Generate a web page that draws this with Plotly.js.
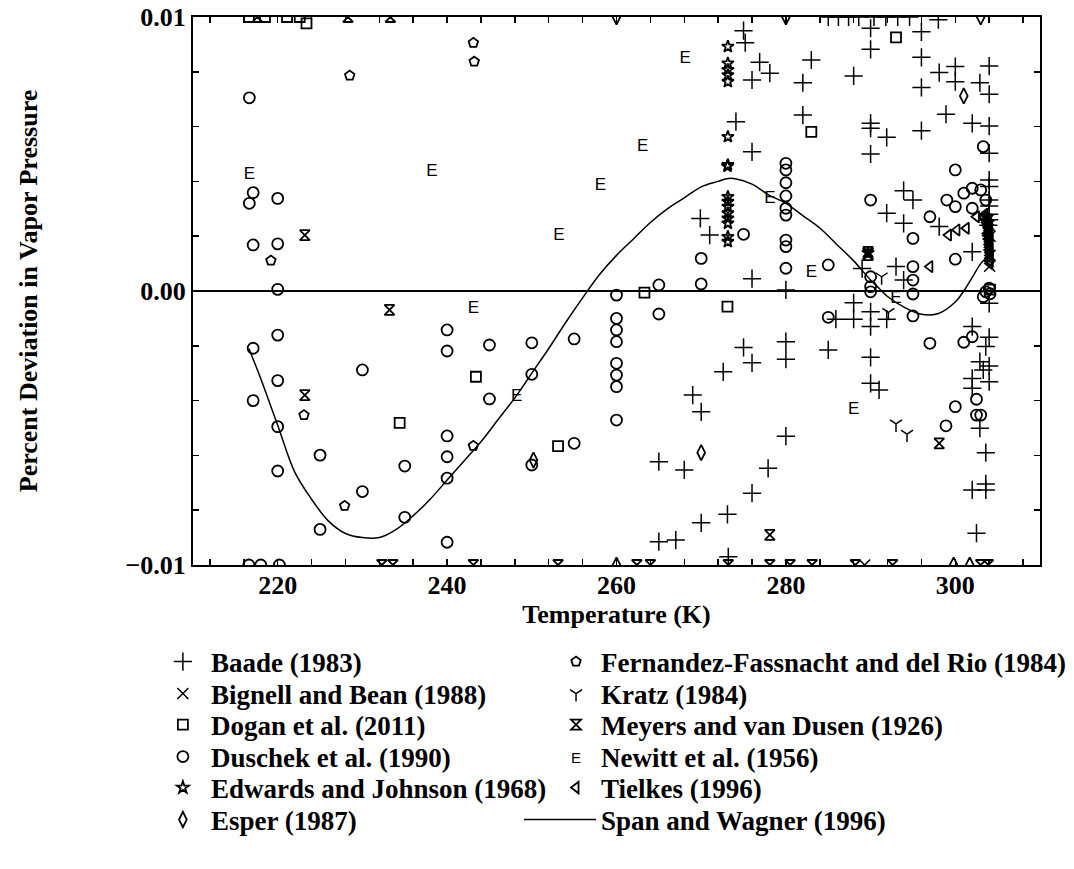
<!DOCTYPE html>
<html><head><meta charset="utf-8">
<script src="https://cdn.plot.ly/plotly-3.0.1.min.js"></script>
<style>html,body{margin:0;padding:0;background:#fff}</style>
</head><body><div id="chart" style="width:1074px;height:869px"></div>
<script>
// [Temperature (K), percent deviation]
const baadePts = [[275,-0.00206],[276,-0.00262],[272.6,-0.00295],[269,-0.0038],[270,-0.00441],[265,-0.00623],[268,-0.00653],[277.9,-0.00647],[276,-0.00738],[270,-0.00846],[273.1,-0.00815],[265,-0.00915],[267,-0.00909],[273.2,-0.0097],[280,-0.0053],
[275,0.0095],[275.2,0.00906],[276.9,0.00835],[278.1,0.00795],[276,0.0077],[274.1,0.00618],[276,0.00508],[269.9,0.00265],[271,0.00204],[276,0.00045],
[290,0.00959],[296,0.00946],[290,0.00882],[296,0.00853],[283,0.00843],[282,0.0076],[288,0.00785],[296,0.00743],[298.1,0.00797],[300,0.00819],[304,0.00821],[300,0.00764],[302.9,0.0076],[304,0.00718],[298.9,0.00645],[282,0.00642],[290,0.00612],[290,0.00594],[291.9,0.00561],[296,0.00585],[290,0.005],[302,0.00612],[304,0.00602],[304,0.00503],[304,0.00405],[304,0.00381],[304,0.00332],[293.9,0.00366],[295,0.00332],[291.9,0.00284],[293.9,0.00247],[298.1,0.00235],[302,0.00143],[289,0.00082],[293,0.00089],[293.9,0.0004],[280,0.00004],
[288,-0.00043],[285.9,-0.00103],[288,-0.00103],[290,-0.00076],[290,-0.0013],[291.9,-0.00103],[280,-0.00185],[280,-0.00249],[285,-0.00215],[290,-0.00242],[290,-0.00337],[291,-0.00361],
[302,-0.0013],[304,-0.00045],[304,-0.00169],[303.6,-0.00203],[302.9,-0.00258],[304,-0.00274],[303.3,-0.00288],[302,-0.00319],[302,-0.00355],[304,-0.00331],[302.9,-0.00501],[303.6,-0.0059],[302,-0.00726],[303.6,-0.00704],[303.6,-0.00726],[302.5,-0.00884],
[304,0.0031],[304,0.0028],[304,0.0026],[303.9,0.0024],
[285,0.01],[286.2,0.01],[287.4,0.01],[288.6,0.01],[290.4,0.01],[291.8,0.01],[293.2,0.01],[294.6,0.01],[298,0.0099]];

const bignellPts = [[303.9,0.0026],[304.0,0.0024],[304.1,0.002],[304.1,0.0013],[304.05,0.0009],[303.8,0.0022],[289.7,0.00137],[289.3,-0.01]];

const doganPts = [[234.4,-0.00481],[243.4,-0.00313],[253.1,-0.00566],[263.3,-0.00006],[273.1,-0.00057],[283,0.00581],[293,0.00926],[223.4,0.00977],[304.1,0.00005],
[216.6,0.01],[218.5,0.01],[221.1,0.01],[222.6,0.01]];

const duschekPts = [[216.65,0.00705],[217.1,0.00359],[216.65,0.0032],[220,0.00338],[217.1,0.00168],[220,0.00172],[220,0.00006],[220,-0.00161],[217.1,-0.00209],[220,-0.00327],[217.1,-0.004],[220,-0.00495],[225,-0.00599],[220,-0.00657],
[230,-0.00288],[230,-0.00732],[225,-0.0087],[235,-0.00639],[235,-0.00826],[240,-0.00142],[240,-0.00219],[240,-0.00529],[240,-0.00605],[240,-0.00683],[240,-0.00917],[245,-0.00197],[245,-0.00394],
[250,-0.00189],[250,-0.00304],[250,-0.00635],[255,-0.00175],[255,-0.00556],[260,-0.00015],[260,-0.001],[260,-0.00142],[260,-0.00185],[260,-0.00264],[260,-0.00307],[260,-0.00349],[260,-0.00471],
[265,0.00022],[265,-0.00084],[270,0.00026],[270,0.00119],[275,0.00207],
[280,0.00466],[280,0.00442],[280,0.00395],[280,0.00347],[280,0.00302],[280,0.00277],[280,0.00186],[280,0.00162],[280,0.00083],
[290,0.00332],[295,0.00192],[297,0.00271],[300,0.00442],[299,0.00332],[300,0.00308],[301,0.00357],[302,0.00375],[302,0.00302],[303,0.00369],[303.3,0.00527],[300,0.00116],[295,0.00089],[295,0.0004],[290,0.00052],[290,0.00016],[285,0.00095],[303.6,0.00332],
[290,-0.00003],[295,-0.00011],[295,-0.00091],[285,-0.00096],[297,-0.00191],[301,-0.00187],[302,-0.00167],[300,-0.00422],[298.9,-0.00492],[302.5,-0.00395],[302.5,-0.00453],[303,-0.00453],[303.6,-0.00003],[303.3,-0.00021],[304,0.0001],[304.1,-0.0001],
[216.6,-0.01],[218,-0.01],[220.2,-0.01]];

const edwardsPts = [[273.15,0.00892],[273.15,0.00831],[273.15,0.00807],[273.15,0.00788],[273.15,0.00764],[273.15,0.00563],[273.15,0.0046],[273.1,0.00455],[273.15,0.00344],[273.15,0.00326],[273.15,0.00308],[273.15,0.00284],[273.15,0.00265],[273.15,0.00247],[273.15,0.00198],[273.15,0.0018],[289.7,0.0014]];

const esperPts = [[250.2,-0.00617],[270,-0.0059],[301,0.00712],[260,0.01],[280,0.01],[303,0.01],[260,-0.01],[299.8,-0.01],[301.7,-0.01]];

const fernandezPts = [[243.1,0.00906],[243.2,0.00837],[228.5,0.00786],[219.2,0.00111],[223.1,-0.00453],[227.9,-0.00784],[243.1,-0.00565]];

const kratzPts = [[291.3,0.00052],[292.1,-0.00078],[293,-0.00485],[294.3,-0.00522]];

const meyersPts = [[223.2,0.00204],[233.2,-0.00069],[223.2,-0.0038],[278.1,-0.0089],[298.1,-0.00556],[289.7,0.00143],[289.7,0.00131],
[217.6,0.01],[228.3,0.01],[233.3,0.01],
[232.3,-0.01],[233.6,-0.01],[243.1,-0.01],[253.1,-0.01],[262.4,-0.01],[264,-0.01],[273.2,-0.01],[278.1,-0.01],[280.5,-0.01],[283.1,-0.01],[288.2,-0.01],[292.6,-0.01],[303,-0.01],[303.9,-0.01]];

const newittPts = [[216.65,0.00423],[238.2,0.00435],[243.1,-0.00063],[248.2,-0.00386],[268.1,0.00846],[263.1,0.00527],[258.1,0.00384],[253.2,0.00201],[278.1,0.00338],[283,0.00065],[288,-0.00432],[293,-0.00027]];

const tielkesPts = [[299.2,0.00204],[300.2,0.00223],[301.3,0.00229],[302.5,0.00271],[297,0.00089],
[303.4,0.0027],[303.6,0.0026],[303.7,0.0025],[303.8,0.0024],[303.9,0.0023],[304.0,0.0022],[304.0,0.002],[304.05,0.0018],[304.05,0.0016],[304.1,0.0014],[304.1,0.0012],[304.1,0.001],[303.8,0.0021],[303.9,0.0019],[304.0,0.0017],[304.0,0.0015],[304.1,0.0011],[303.5,0.0028],[303.95,0.0026],[304.05,0.0024],[304.1,0.0021],[304.1,0.0019],[304.1,0.0017],[304.1,0.0015],[304.1,0.0013]];

const spanT = [216.6,218,220,222,224,226,228,230,232,234,236,238,240,242,244,246,248,250,252,254,256,258,260,262,264,266,268,270,272,273,274,276,278,280,282,284,286,288,290,291,292,294,296,298,300,301,302,303,303.6,304.1];
const spanP = [-0.0021,-0.0032,-0.0049,-0.0066,-0.0076,-0.0084,-0.00885,-0.0090,-0.0090,-0.0087,-0.0082,-0.0076,-0.0069,-0.0062,-0.0055,-0.0047,-0.0039,-0.0030,-0.0021,-0.00115,-0.00025,0.0006,0.0013,0.0019,0.0025,0.0030,0.0034,0.0038,0.0040,0.0041,0.0041,0.0039,0.0035,0.0032,0.00275,0.0023,0.0017,0.0011,0.0004,0.0001,-0.0002,-0.0006,-0.00085,-0.00082,-0.0004,0.0000,0.0005,0.0010,0.0012,0.0014];

const xTickVals = [220,240,260,280,300];
const yTickVals = [-0.01,0,0.01];

const SERIF = 'Liberation Serif, Times New Roman, serif';
const SANS = 'Liberation Sans, Arial, sans-serif';
const xs = p => p.map(d => d[0]);
const ys = p => p.map(d => d[1]);

function mk(pts, name, symbol, size, lw, legend) {
  return {
    type: 'scatter', mode: 'markers', name: name, legend: legend,
    x: xs(pts), y: ys(pts),
    marker: {symbol: symbol, size: size, color: 'black', line: {color: 'black', width: lw}}
  };
}

const traces = [
  mk(baadePts, 'Baade (1983)', 'cross-thin-open', 13, 1.5, 'legend'),
  mk(bignellPts, 'Bignell and Bean (1988)', 'x-thin-open', 11, 1.5, 'legend2'),
  mk(doganPts, 'Dogan et al. (2011)', 'square-open', 10, 1.8, 'legend3'),
  mk(duschekPts, 'Duschek et al. (1990)', 'circle-open', 11, 1.8, 'legend4'),
  mk(edwardsPts, 'Edwards and Johnson (1968)', 'star-open', 9, 1.8, 'legend5'),
  mk(esperPts, 'Esper (1987)', 'diamond-tall-open', 11, 1.8, 'legend6'),
  mk(fernandezPts, 'Fernandez-Fassnacht and del Rio (1984)', 'pentagon-open', 10, 1.8, 'legend7'),
  mk(kratzPts, 'Kratz (1984)', 'y-down-open', 10, 1.5, 'legend8'),
  mk(meyersPts, 'Meyers and van Dusen (1926)', 'hourglass-open', 10, 1.8, 'legend9'),
  {type:'scatter', mode:'markers', name:'Newitt et al. (1956)', legend:'legend10', x:[null], y:[null],
   marker:{size:10, color:'rgba(0,0,0,0)'}},
  mk(tielkesPts, 'Tielkes (1996)', 'triangle-left-open', 10, 1.8, 'legend11'),
  {type:'scatter', mode:'lines', name:'Span and Wagner (1996)', legend:'legend12', x: spanT, y: spanP,
   line:{color:'black', width:1.5, shape:'spline', smoothing:1}},
  {type:'scatter', mode:'text', name:'Newitt et al. (1956)', showlegend:false, x: xs(newittPts), y: ys(newittPts),
   text: newittPts.map(() => 'E'), textposition:'middle center',
   textfont:{family: SANS, size:17, color:'black', weight:'normal'}}
];

const legFont = {family: SERIF, size: 27, color: 'black', weight: 'bold'};
const rowY = [662, 694, 725, 757, 788, 820].map(py => (565 - py) / 548);
function leg(x, y, w) {
  return {x: x, xanchor: 'left', y: y, yanchor: 'middle', orientation: 'v', font: legFont,
    itemwidth: w, bgcolor: 'rgba(0,0,0,0)', borderwidth: 0};
}
const c1 = -0.045, c2 = 0.4227;

const layout = {
  width: 1074, height: 869,
  margin: {l: 193, r: 34, t: 17, b: 304, pad: 0, autoexpand: false},
  paper_bgcolor: 'white', plot_bgcolor: 'white',
  font: {family: SERIF, size: 26, color: 'black', weight: 'bold'},
  showlegend: true,
  xaxis: {
    range: [210, 310], tickvals: xTickVals, ticks: 'inside', ticklen: 6, tickwidth: 1.5, tickcolor: 'black',
    showline: true, linecolor: 'black', linewidth: 2, mirror: 'ticks', showgrid: false, zeroline: false,
    tickfont: {family: SERIF, size: 26, weight: 'bold'}, ticklabelstandoff: -4,
    title: {text: 'Temperature (K)', font: {family: SERIF, size: 26, weight: 'bold'}, standoff: 0},
    minor: {dtick: 4, tick0: 220, ticks: 'inside', ticklen: 6, tickwidth: 1.5, tickcolor: 'black', showgrid: false},
    automargin: false
  },
  yaxis: {
    range: [-0.01, 0.01], tickvals: yTickVals, tickformat: '.2f', ticks: 'inside', ticklen: 6, tickwidth: 1.5, tickcolor: 'black',
    showline: true, linecolor: 'black', linewidth: 2, mirror: 'ticks', showgrid: false,
    zeroline: true, zerolinecolor: 'black', zerolinewidth: 1.5,
    tickfont: {family: SERIF, size: 26, weight: 'bold'},
    title: {text: 'Percent Deviation in Vapor Pressure', font: {family: SERIF, size: 26, weight: 'bold'}, standoff: 80},
    minor: {dtick: 0.002, tick0: 0, ticks: 'inside', ticklen: 6, tickwidth: 1.5, tickcolor: 'black', showgrid: false},
    automargin: false
  },
  legend: leg(c1, rowY[0], 46),
  legend2: leg(c1, rowY[1], 46),
  legend3: leg(c1, rowY[2], 46),
  legend4: leg(c1, rowY[3], 46),
  legend5: leg(c1, rowY[4], 46),
  legend6: leg(c1, rowY[5], 46),
  legend7: leg(c2, rowY[0], 40),
  legend8: leg(c2, rowY[1], 40),
  legend9: leg(c2, rowY[2], 40),
  legend10: leg(c2, rowY[3], 40),
  legend11: leg(c2, rowY[4], 40),
  legend12: leg(0.3849, rowY[5], 72),
  annotations: [{xref: 'paper', yref: 'paper', x: (576 - 193) / 847, y: rowY[3], xanchor: 'center', yanchor: 'middle',
    text: 'E', showarrow: false, font: {family: SANS, size: 15, color: 'black', weight: 'normal'}}]
};

Plotly.newPlot('chart', traces, layout, {staticPlot: true, displayModeBar: false});
</script>
</body></html>
